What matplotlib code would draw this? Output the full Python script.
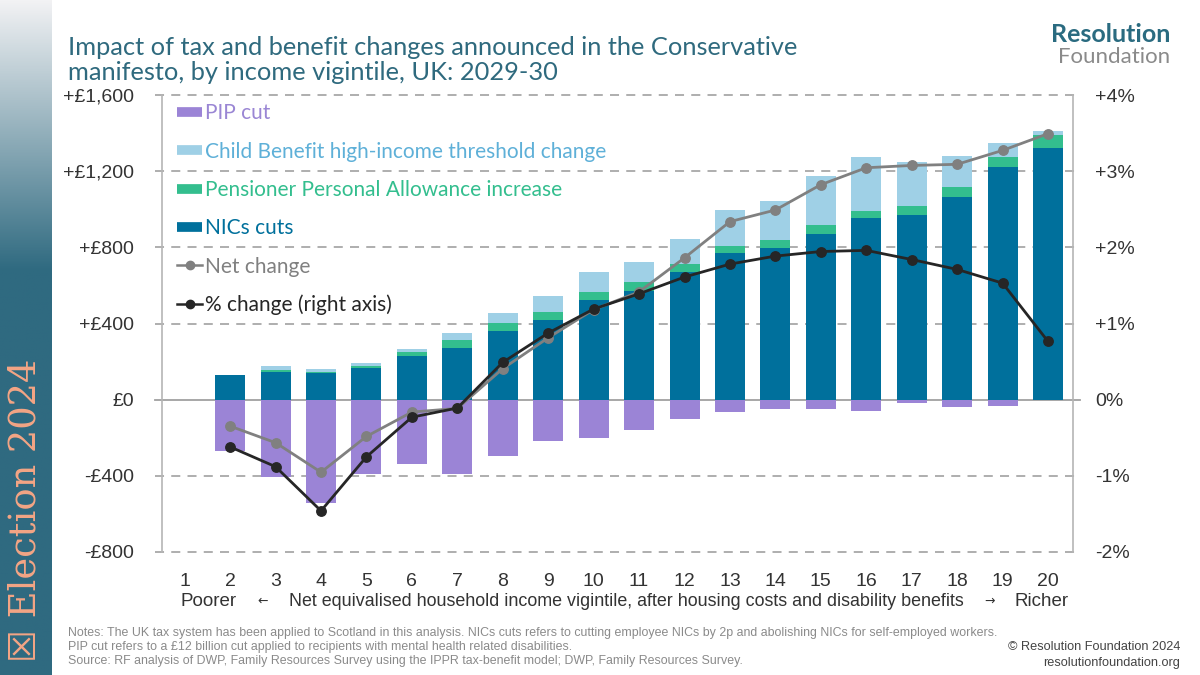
import numpy as np
import matplotlib
matplotlib.use("Agg")
import matplotlib.pyplot as plt
from matplotlib.lines import Line2D
from matplotlib.colors import LinearSegmentedColormap
import matplotlib.transforms as mtransforms

# ---------------- data ----------------
vigintiles = list(range(1, 21))
nics_cuts = [np.nan, 128, 145, 138, 165, 228, 270, 363, 417, 526, 570, 670, 768, 794, 872, 956, 970, 1066, 1221, 1321]
pensioner_pa = [np.nan, 0, 9, 9, 14, 21, 42, 38, 41, 40, 47, 42, 39, 46, 44, 33, 47, 51, 53, 68]
child_benefit = [np.nan, 0, 25, 16, 12, 19, 38, 53, 87, 107, 104, 131, 189, 203, 260, 283, 233, 161, 72, 20]
pip_cut = [np.nan, -267, -405, -542, -388, -337, -388, -295, -216, -202, -158, -100, -67, -47, -49, -58, -19, -40, -35, 0]
net_change = [np.nan, -139, -226, -381, -193, -65, -46, 163, 325, 473, 566, 745, 935, 996, 1129, 1218, 1230, 1236, 1309, 1397]
pct_change = [np.nan, -0.62, -0.88, -1.46, -0.75, -0.23, -0.11, 0.49, 0.875, 1.19, 1.39, 1.61, 1.78, 1.885, 1.945, 1.96, 1.84, 1.71, 1.53, 0.765]

left_ticks = [-800, -400, 0, 400, 800, 1200, 1600]
left_labels = ["-£800", "-£400", "£0", "+£400", "+£800", "+£1,200", "+£1,600"]
right_ticks = [-2, -1, 0, 1, 2, 3, 4]
right_labels = ["-2%", "-1%", "0%", "+1%", "+2%", "+3%", "+4%"]

series_names = ["PIP cut", "Child Benefit high-income threshold change",
                "Pensioner Personal Allowance increase", "NICs cuts",
                "Net change", "% change (right axis)"]

# ---------------- style ----------------
C_PIP = "#9b84d6"
C_CB = "#9fd0e6"
C_PA = "#33be8e"
C_NIC = "#00709c"
C_NET = "#808080"
C_PCT = "#262626"
TXT_PIP = "#9a86d4"
TXT_CB = "#5eb0d8"
TXT_PA = "#33be8e"
TXT_NIC = "#00709c"
TITLE_C = "#2f6a7e"
GRID_C = "#a8a8a8"
TICK_C = "#333333"

plt.rcParams['font.family'] = ['Liberation Sans', 'DejaVu Sans']
MAINFONT = ['Lato', 'DejaVu Sans']

fig = plt.figure(figsize=(12, 6.75), dpi=100)
fig.patch.set_facecolor("white")

# ---- left banner ----
bax = fig.add_axes([0, 0, 52 / 1200, 1])
grad_top = "#f2f2f4"
grad_bot = "#2f6a80"
cmap = LinearSegmentedColormap.from_list("g", [(0, grad_top), (0.40, grad_bot), (1, grad_bot)])
gradient = np.linspace(0, 1, 256).reshape(-1, 1)
bax.imshow(gradient, aspect="auto", cmap=cmap, extent=[0, 1, 0, 1], origin="upper")
bax.set_xlim(0, 1); bax.set_ylim(0, 1)
bax.axis("off")
bax.text(0.5, 0.02, "\u2612 Election 2024", rotation=90, ha="center", va="bottom",
         color="#f4a585", fontsize=26.5, family=['DejaVu Serif', 'DejaVu Sans'])

# ---- main axes ----
ax = fig.add_axes([162 / 1200, 1 - 552 / 675, (1073 - 162) / 1200, (552 - 95) / 675])
x = np.array(vigintiles, dtype=float)
nics = np.array(nics_cuts, dtype=float)
pa = np.array(pensioner_pa, dtype=float)
cb = np.array(child_benefit, dtype=float)
pip = np.array(pip_cut, dtype=float)
w = 0.66

ax.bar(x, nics, w, color=C_NIC, zorder=2)
ax.bar(x, pa, w, bottom=nics, color=C_PA, zorder=2)
ax.bar(x, cb, w, bottom=nics + pa, color=C_CB, zorder=2)
ax.bar(x, pip, w, color=C_PIP, zorder=2)

ax.plot(x, net_change, color=C_NET, lw=2, marker="o", ms=6.8, zorder=4)

ax.set_xlim(0.5, 20.55)
ax.set_ylim(-800, 1600)

for y in [-800, -400, 400, 800, 1200, 1600]:
    ax.axhline(y, xmin=-0.008, xmax=1.008, color=GRID_C, lw=1.3, ls=(0, (5, 4)), zorder=1, clip_on=False)
ax.axhline(0, xmin=-0.008, xmax=1.008, color="#a0a0a0", lw=1.3, zorder=1, clip_on=False)

for s in ["top", "bottom"]:
    ax.spines[s].set_visible(False)
for s in ["left", "right"]:
    ax.spines[s].set_color("#b5b5b5")
    ax.spines[s].set_linewidth(1.2)

ax.set_yticks(left_ticks)
ax.set_yticklabels(left_labels)
ax.tick_params(axis="y", length=0, pad=20, labelsize=14, labelcolor=TICK_C)
ax.set_xticks(vigintiles)
ax.set_xticklabels([str(v) for v in vigintiles])
ax.tick_params(axis="x", length=0, pad=15, labelsize=14, labelcolor=TICK_C)

ax2 = ax.twinx()
ax2.set_ylim(-2, 4)
ax2.plot(x, pct_change, color=C_PCT, lw=2, marker="o", ms=6.8, zorder=5)
ax2.set_yticks(right_ticks)
ax2.set_yticklabels(right_labels)
ax2.tick_params(axis="y", length=0, pad=16, labelsize=14, labelcolor=TICK_C)
for s in ["top", "bottom", "left", "right"]:
    ax2.spines[s].set_visible(False)

# x axis description
trans = mtransforms.blended_transform_factory(ax.transData, ax.transAxes)
ylab = -0.108
ax.text(1.53, ylab, "Poorer", transform=trans, ha="center", va="center", fontsize=13.5, color=TICK_C)
ax.text(2.72, ylab, "\u2190", transform=trans, ha="center", va="center", fontsize=9, color=TICK_C,
        family=['DejaVu Sans'])
ax.text(10.72, ylab, "Net equivalised household income vigintile, after housing costs and disability benefits",
        transform=trans, ha="center", va="center", fontsize=12.9, color=TICK_C)
ax.text(18.72, ylab, "\u2192", transform=trans, ha="center", va="center", fontsize=9, color=TICK_C,
        family=['DejaVu Sans'])
ax.text(19.85, ylab, "Richer", transform=trans, ha="center", va="center", fontsize=13.5, color=TICK_C)

# legend
handles = [
    Line2D([0], [0], color=C_PIP, lw=7, solid_capstyle="butt"),
    Line2D([0], [0], color=C_CB, lw=7, solid_capstyle="butt"),
    Line2D([0], [0], color=C_PA, lw=7, solid_capstyle="butt"),
    Line2D([0], [0], color=C_NIC, lw=7, solid_capstyle="butt"),
    Line2D([0], [0], color=C_NET, lw=1.8, marker="o", ms=6),
    Line2D([0], [0], color=C_PCT, lw=1.8, marker="o", ms=6),
]
leg = ax.legend(handles, series_names, loc="upper left", bbox_to_anchor=(-0.004, 1.023),
                frameon=False, handlelength=1.2, handletextpad=0.15, labelspacing=0.88,
                prop={'family': MAINFONT, 'size': 15})
for t, c in zip(leg.get_texts(), [TXT_PIP, TXT_CB, TXT_PA, TXT_NIC, C_NET, C_PCT]):
    t.set_color(c)
leg.set_zorder(10)

# title
fig.text(68 / 1200, 1 - 60 / 675, "Impact of tax and benefit changes announced in the Conservative\nmanifesto, by income vigintile, UK: 2029-30",
         ha="left", va="center", fontsize=18.3, color=TITLE_C, family=MAINFONT,
         linespacing=1.08)

# logo
fig.text(1170 / 1200, 1 - 35 / 675, "Resolution", ha="right", va="center", fontsize=18,
         color="#2a6b80", weight="bold", family=MAINFONT)
fig.text(1170 / 1200, 1 - 57 / 675, "Foundation", ha="right", va="center", fontsize=16,
         color="#8a8a8a", family=MAINFONT)

# footer
notes = ("Notes: The UK tax system has been applied to Scotland in this analysis. NICs cuts refers to cutting employee NICs by 2p and abolishing NICs for self-employed workers.\n"
         "PIP cut refers to a \u00a312 billion cut applied to recipients with mental health related disabilities.\n"
         "Source: RF analysis of DWP, Family Resources Survey using the IPPR tax-benefit model; DWP, Family Resources Survey.")
fig.text(68 / 1200, 1 - 647 / 675, notes, ha="left", va="center", fontsize=8.95, color="#8a8a8a",
         linespacing=1.2)
fig.text(1180 / 1200, 1 - 647 / 675, "\u00a9 Resolution Foundation 2024", ha="right", va="center",
         fontsize=9.2, color="#444444")
fig.text(1180 / 1200, 1 - 663 / 675, "resolutionfoundation.org", ha="right", va="center",
         fontsize=9.2, color="#444444")

fig.savefig("out.png", dpi=100, facecolor="white")
